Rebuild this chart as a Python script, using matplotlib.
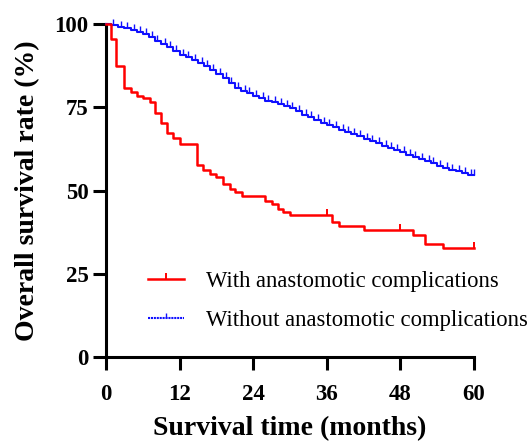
import numpy as np
import matplotlib
matplotlib.use("Agg")
import matplotlib.pyplot as plt
from matplotlib.lines import Line2D

plt.rcParams['font.family'] = ['Liberation Serif', 'DejaVu Serif']

# Kaplan-Meier steps (months, survival %)
red_times = [0.75, 1.7, 2.9, 4.0, 5.0, 6.0, 7.1, 8.0, 9.0, 10.0, 11.0, 12.0,
             14.8, 15.9, 17.0, 18.0, 19.1, 20.2, 21.0, 22.1, 25.9, 27.0,
             28.1, 28.9, 30.0, 36.9, 38.0, 42.0, 50.0, 52.0, 55.0]
red_surv = [95.4, 87.4, 80.7, 79.7, 78.4, 77.7, 76.7, 73.2, 70.4, 67.2, 65.7, 63.9,
            57.7, 56.3, 55.1, 54.1, 51.9, 50.6, 49.6, 48.4, 47.0, 45.9,
            44.6, 43.6, 42.6, 40.6, 39.4, 38.3, 36.6, 33.9, 32.6]
red_censor = [36.1, 48.0, 60.0]

blue_times = [0.8, 2.0, 3.0, 4.0, 5.0, 6.0, 7.0, 8.0, 9.0, 10.0, 11.0, 12.0,
              13.0, 14.0, 15.0, 16.0, 17.0, 18.0, 19.0, 20.0, 21.0, 22.0, 23.0,
              24.0, 25.0, 26.0, 27.0, 28.0, 29.0, 30.0, 31.0, 32.0, 33.0, 34.0,
              35.0, 36.0, 37.0, 38.0, 39.0, 40.0, 41.0, 42.0, 43.0, 44.0, 45.0,
              46.0, 47.0, 48.0, 49.0, 50.0, 51.0, 52.0, 53.0, 54.0, 55.0, 56.0,
              57.0, 58.0, 59.0]
blue_surv = [99.6, 99.2, 98.7, 98.2, 97.6, 97.0, 96.0, 95.0, 94.0, 93.0, 92.0, 90.8,
             90.0, 89.2, 88.2, 87.3, 86.2, 85.0, 83.8, 82.3, 80.9, 80.0, 79.2,
             78.3, 77.7, 77.0, 76.5, 76.0, 75.5, 74.8, 73.8, 72.8, 72.0, 71.2,
             70.3, 69.6, 69.0, 68.3, 67.6, 67.0, 66.3, 65.6, 64.9, 64.2, 63.5,
             62.9, 62.2, 61.5, 60.8, 60.2, 59.5, 58.8, 58.2, 57.5, 56.9, 56.3,
             55.8, 55.3, 54.8]
blue_censor = [1.2, 2.4, 3.4, 4.5, 5.6, 6.6, 7.5, 8.4, 9.6, 10.5, 11.4, 12.6,
               13.4, 14.5, 15.6, 16.4, 17.5, 18.6, 19.5, 20.4, 21.5, 22.6, 23.4,
               24.5, 25.6, 26.4, 27.5, 28.6, 29.5, 30.4, 31.5, 32.6, 33.4, 34.5,
               35.6, 36.4, 37.5, 38.6, 39.5, 40.4, 41.5, 42.6, 43.4, 44.5, 45.6,
               46.4, 47.5, 48.6, 49.5, 50.4, 51.5, 52.6, 53.4, 54.5, 55.6, 56.4,
               57.5, 58.6, 59.5, 60.0]

labels = ["With anastomotic complications", "Without anastomotic complications"]
colors = ["#ff0000", "#1010ff"]

tick_up = [(0, 0), (0, 1)]


def km_xy(times, surv, end=60):
    x = np.concatenate([[0], times, [end]])
    y = np.concatenate([[100], surv, [surv[-1]]])
    return x, y


def surv_at(times, surv, t):
    idx = np.searchsorted(times, t, side='right') - 1
    return 100.0 if idx < 0 else surv[idx]


fig = plt.figure(figsize=(5.32, 4.43), dpi=100)
ax = fig.add_axes([0.1992, 0.194, 0.6917, 0.7517])

for times, surv, cens, col in [(blue_times, blue_surv, blue_censor, colors[1]),
                               (red_times, red_surv, red_censor, colors[0])]:
    lw = 1.8 if col == colors[0] else 1.5
    x, y = km_xy(times, surv)
    ax.step(x, y, where='post', color=col, lw=lw, clip_on=False, zorder=3)
    cy = [surv_at(times, surv, t) for t in cens]
    ax.plot(cens, cy, ls='none', marker=tick_up, ms=9, mew=1.4 if col == colors[0] else 1.0,
            color=col, clip_on=False, zorder=4)

ax.set_xlim(0, 60)
ax.set_ylim(0, 100)
ax.set_xticks([0, 12, 24, 36, 48, 60])
ax.set_yticks([0, 25, 50, 75, 100])
for s in ['top', 'right']:
    ax.spines[s].set_visible(False)
for s in ['left', 'bottom']:
    ax.spines[s].set_linewidth(2.2)
ax.tick_params(length=9.5, width=2.2, labelsize=16.5)
ax.tick_params(axis='x', pad=10)
ax.tick_params(axis='y', pad=3)
for lab in ax.get_xticklabels() + ax.get_yticklabels():
    lab.set_fontweight('bold')

ax.set_xlabel("Survival time (months)", fontsize=20, fontweight='bold', labelpad=8)
ax.set_ylabel("Overall survival rate (%)", fontsize=20, fontweight='bold', labelpad=10)

handles = [Line2D([], [], color=colors[0], lw=1.8, marker=tick_up, ms=9, mew=1.4),
           Line2D([], [], color=colors[1], lw=1.5, ls=(0, (1, 0.4)), marker=tick_up, ms=7, mew=1.0)]
ax.legend(handles, labels, loc='lower left', bbox_to_anchor=(0.06, 0.016), frameon=False,
          fontsize=16.3, handlelength=1.55, handletextpad=1.0, labelspacing=0.82, numpoints=1)

fig.savefig("out.png", dpi=100)
